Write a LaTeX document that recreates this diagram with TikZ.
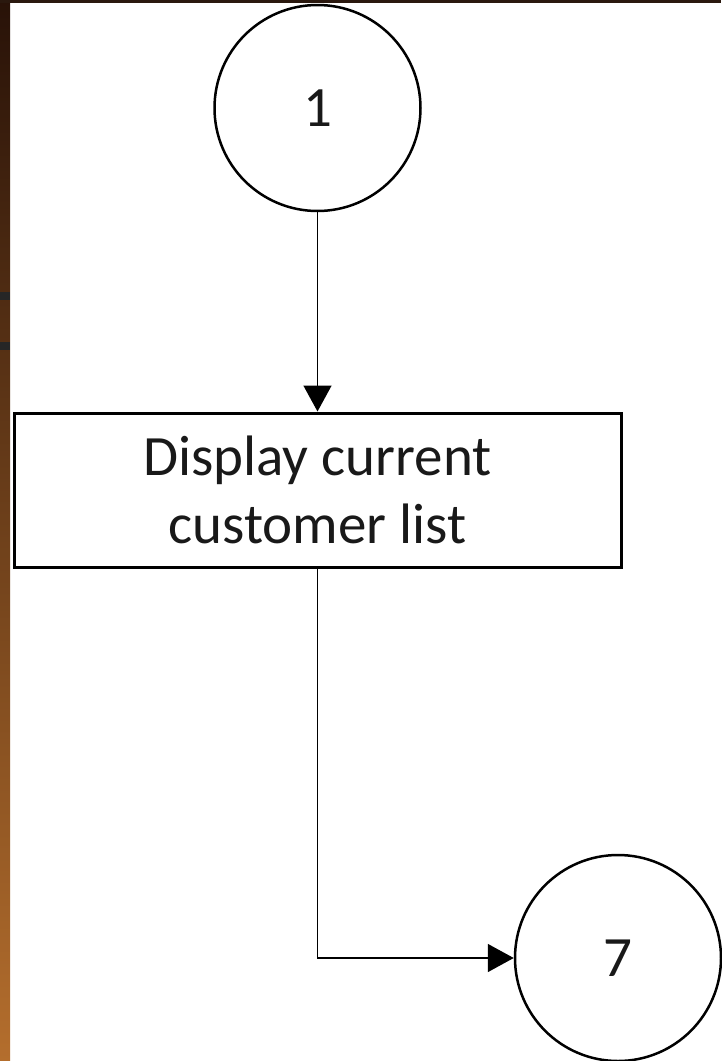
\documentclass[tikz,border=0pt]{standalone}
\usepackage{fontspec}
\setmainfont{Carlito}
\usetikzlibrary{arrows.meta,calc}
\definecolor{woodtop}{RGB}{40,18,8}
\definecolor{woodbot}{RGB}{180,110,45}
\definecolor{topstrip}{RGB}{42,24,14}
\begin{document}
\begin{tikzpicture}[x=1pt,y=-1pt,
  proc/.style={draw=black,line width=3pt,fill=white,minimum width=607pt,minimum height=154pt,inner sep=0pt,align=center,font=\fontsize{57}{68}\selectfont,text=black!90},
  conn/.style={draw=black,line width=1.6pt},
  termc/.style={circle,draw=black,line width=2.5pt,fill=white,minimum size=206pt,inner sep=0pt,font=\fontsize{57}{68}\selectfont,text=black!90},
  tip/.style={-{Triangle[width=28pt,length=26pt]}}]
\useasboundingbox (0,0) rectangle (721,1061);
\fill[white] (0,0) rectangle (721,1061);
\shade[top color=woodtop,bottom color=woodbot] (0,0) rectangle (10,1061);
\fill[black!85] (0,292) rectangle (10,300);
\fill[black!85] (0,342) rectangle (10,350);
\fill[topstrip] (0,0) rectangle (721,3);
\node[termc] (c1) at (317.5,108) {1};
\node[proc] (box) at (317.5,490) {Display current\\customer list};
\node[termc] (c7) at (618,958) {7};
\draw[conn,tip] (c1.south) -- (box.north);
\draw[conn,tip] (box.south) |- (c7.west);
\end{tikzpicture}
\end{document}
